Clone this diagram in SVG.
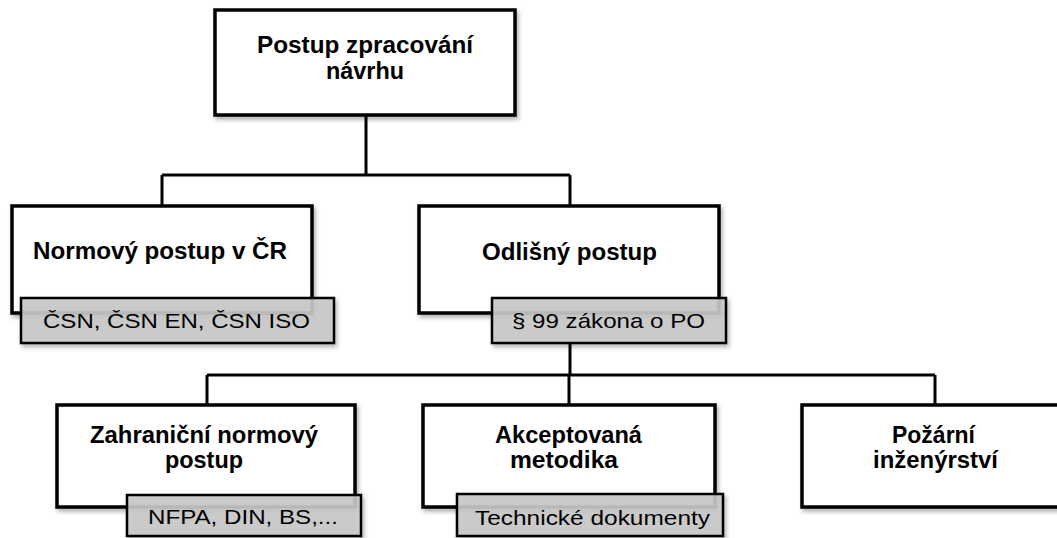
<svg xmlns="http://www.w3.org/2000/svg" width="1057" height="538" viewBox="0 0 1057 538">
<defs>
<filter id="sh" x="-10%" y="-10%" width="130%" height="140%">
<feDropShadow dx="2" dy="3" stdDeviation="2" flood-color="#000" flood-opacity="0.3"/>
</filter>
<style>
.box{fill:#fff;stroke:#000;stroke-width:3.5;filter:url(#sh)}
.tag{fill:#c9c9c9;fill-opacity:0.9;stroke:#000;stroke-width:2.5;filter:url(#sh)}
.b{font-family:"Liberation Sans",Arial,sans-serif;font-weight:bold;font-size:23px;fill:#000}
.r{font-family:"Liberation Sans",Arial,sans-serif;font-size:21px;fill:#000}
.con{fill:none;stroke:#000;stroke-width:3}
</style>
</defs>
<rect width="1057" height="538" fill="#fff"/>
<g id="connectors">
<path class="con" d="M366 115V175M162 175H570M162 175V206M570 175V206"/>
<path class="con" d="M570 343V375M207 375H935M207 375V405M569 375V405M935 375V405"/>
</g>
<g id="n-root">
<rect class="box" x="215" y="10" width="300" height="105"/>
<text class="b" x="257" y="53" textLength="216" lengthAdjust="spacingAndGlyphs">Postup zpracování</text>
<text class="b" x="326" y="79" textLength="78" lengthAdjust="spacingAndGlyphs">návrhu</text>
</g>
<g id="n-normovy">
<rect class="box" x="12" y="206" width="300" height="107"/>
<text class="b" x="33" y="259" textLength="254" lengthAdjust="spacingAndGlyphs">Normový  postup v ČR</text>
</g>
<g id="n-odlisny">
<rect class="box" x="419" y="206" width="300" height="107"/>
<text class="b" x="482" y="260" textLength="175" lengthAdjust="spacingAndGlyphs">Odlišný  postup</text>
</g>
<g id="n-zahranicni">
<rect class="box" x="57" y="405" width="298" height="102"/>
<text class="b" x="90" y="443" textLength="228" lengthAdjust="spacingAndGlyphs">Zahraniční  normový</text>
<text class="b" x="165" y="468" textLength="78" lengthAdjust="spacingAndGlyphs">postup</text>
</g>
<g id="n-akceptovana">
<rect class="box" x="423" y="405" width="292" height="102"/>
<text class="b" x="495" y="443" textLength="147" lengthAdjust="spacingAndGlyphs">Akceptovaná</text>
<text class="b" x="510" y="468" textLength="108" lengthAdjust="spacingAndGlyphs">metodika</text>
</g>
<g id="n-pozarni">
<rect class="box" x="802" y="405" width="262" height="102"/>
<text class="b" x="892" y="443" textLength="83" lengthAdjust="spacingAndGlyphs">Požární</text>
<text class="b" x="873" y="468" textLength="125" lengthAdjust="spacingAndGlyphs">inženýrství</text>
</g>
<g id="t-csn">
<rect class="tag" x="21" y="298" width="313" height="45"/>
<text class="r" x="43" y="328" textLength="267" lengthAdjust="spacingAndGlyphs">ČSN, ČSN EN, ČSN ISO</text>
</g>
<g id="t-par99">
<rect class="tag" x="492" y="298" width="234" height="45"/>
<text class="r" x="512" y="328" textLength="193" lengthAdjust="spacingAndGlyphs">§ 99 zákona o PO</text>
</g>
<g id="t-nfpa">
<rect class="tag" x="127" y="495" width="234" height="41"/>
<text class="r" x="148" y="524" textLength="190" lengthAdjust="spacingAndGlyphs">NFPA, DIN, BS,...</text>
</g>
<g id="t-tech">
<rect class="tag" x="457" y="494" width="266" height="42"/>
<text class="r" x="475" y="525" textLength="235" lengthAdjust="spacingAndGlyphs">Technické dokumenty</text>
</g>
</svg>
